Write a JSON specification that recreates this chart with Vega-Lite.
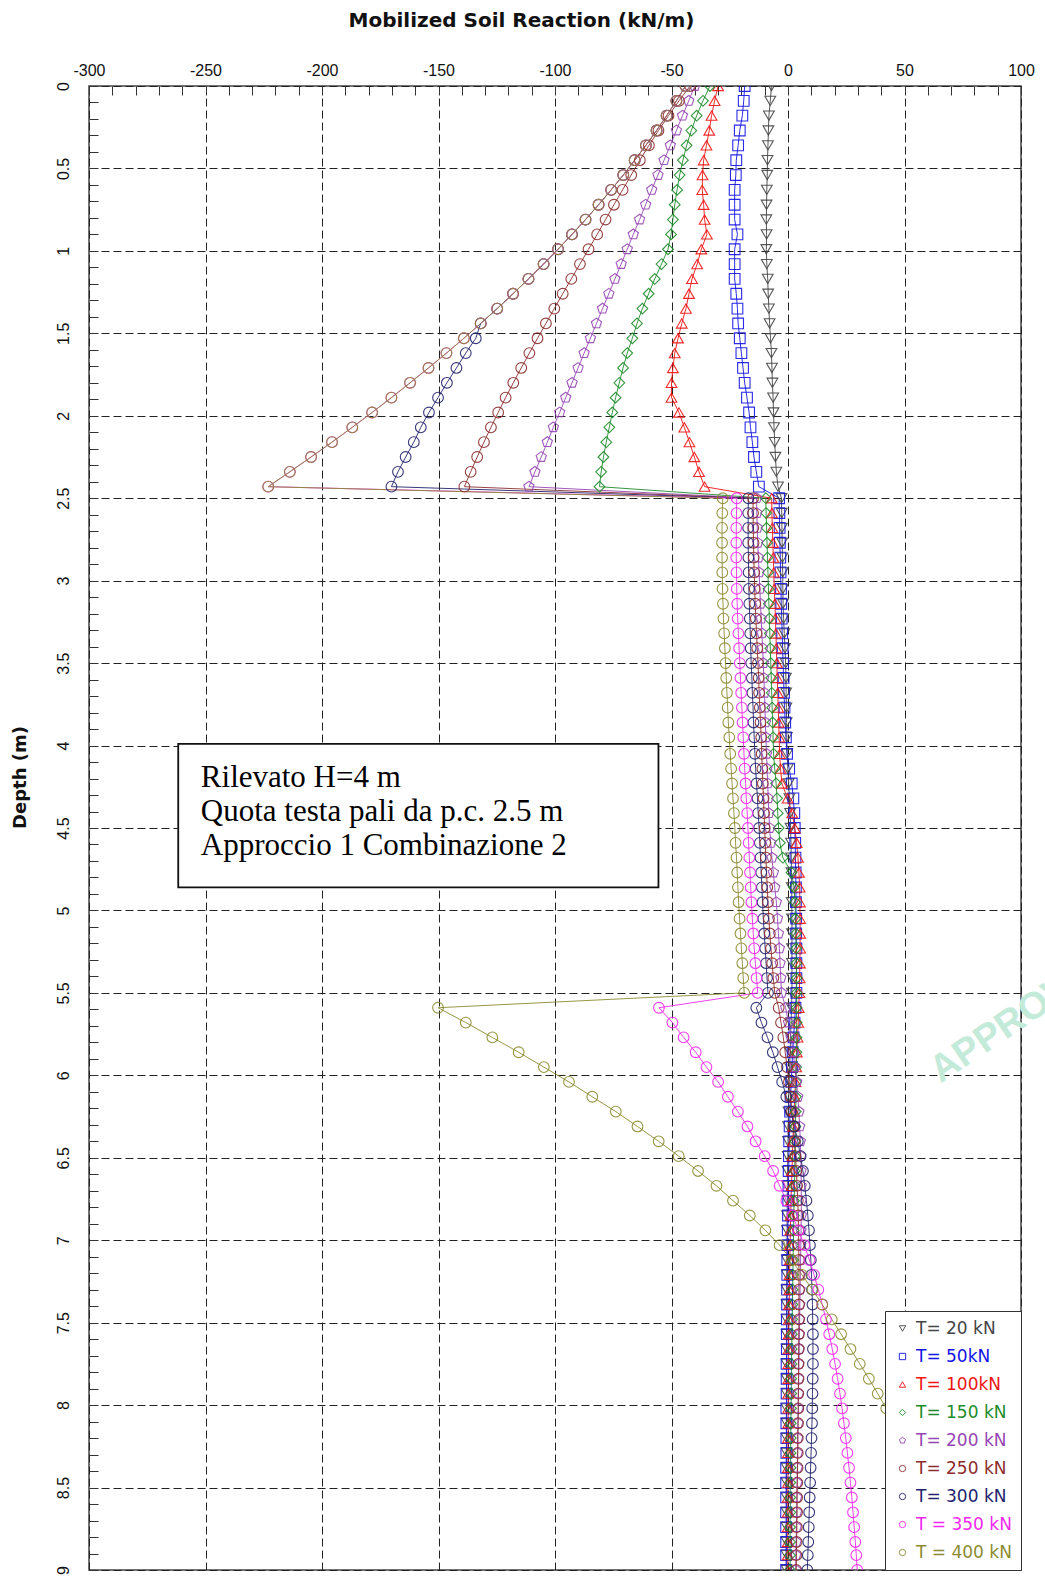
{
  "$schema": "https://vega.github.io/schema/vega-lite/v6.json",
  "width": 932,
  "height": 1484,
  "autosize": {"type": "none"},
  "padding": {"left": 89, "top": 86, "right": 24, "bottom": 11},
  "background": "white",
  "config": {"view": {"stroke": "#444", "strokeWidth": 1.5}, "font": "Liberation Sans"},
  "datasets": {
    "names": [
      {"k": 1, "T": "T= 20 kN"}, {"k": 2, "T": "T= 50kN"}, {"k": 3, "T": "T= 100kN"},
      {"k": 4, "T": "T= 150 kN"}, {"k": 5, "T": "T= 200 kN"}, {"k": 6, "T": "T= 250 kN"},
      {"k": 7, "T": "T= 300 kN"}, {"k": 8, "T": "T = 350 kN"}, {"k": 9, "T": "T = 400 kN"}
    ],
    "series": [
      {"k":1,"d":0,"v":-7.1},{"k":1,"d":0.09,"v":-7.6},{"k":1,"d":0.18,"v":-8.2},{"k":1,"d":0.27,"v":-8.4},{"k":1,"d":0.36,"v":-8.6},{"k":1,"d":0.45,"v":-8.8},{"k":1,"d":0.54,"v":-8.9},{"k":1,"d":0.63,"v":-9.1},{"k":1,"d":0.72,"v":-9.2},{"k":1,"d":0.81,"v":-9.3},
      {"k":1,"d":0.9,"v":-9.2},{"k":1,"d":0.99,"v":-9.3},{"k":1,"d":1.08,"v":-9.1},{"k":1,"d":1.17,"v":-8.7},{"k":1,"d":1.26,"v":-8.5},{"k":1,"d":1.35,"v":-8.2},{"k":1,"d":1.44,"v":-7.9},{"k":1,"d":1.53,"v":-7.5},{"k":1,"d":1.62,"v":-7.1},{"k":1,"d":1.71,"v":-6.9},
      {"k":1,"d":1.8,"v":-6.7},{"k":1,"d":1.89,"v":-6.4},{"k":1,"d":1.98,"v":-6.2},{"k":1,"d":2.07,"v":-6},{"k":1,"d":2.16,"v":-5.7},{"k":1,"d":2.25,"v":-5.4},{"k":1,"d":2.34,"v":-5},{"k":1,"d":2.43,"v":-4.3},
      {"k":1,"d":2.5,"v":-2.8},{"k":1,"d":2.59,"v":-2.7},{"k":1,"d":2.68,"v":-2.6},{"k":1,"d":2.77,"v":-2.5},{"k":1,"d":2.86,"v":-2.4},{"k":1,"d":2.95,"v":-2.3},{"k":1,"d":3.05,"v":-2.2},{"k":1,"d":3.14,"v":-2.1},{"k":1,"d":3.23,"v":-1.9},{"k":1,"d":3.32,"v":-1.6},
      {"k":1,"d":3.41,"v":-1.3},{"k":1,"d":3.5,"v":-1},{"k":1,"d":3.59,"v":-0.9},{"k":1,"d":3.68,"v":-0.8},{"k":1,"d":3.77,"v":-0.7},{"k":1,"d":3.86,"v":-0.6},{"k":1,"d":3.95,"v":-0.5},{"k":1,"d":4.05,"v":-0.4},{"k":1,"d":4.14,"v":-0.1},{"k":1,"d":4.23,"v":0.3},
      {"k":1,"d":4.32,"v":0.6},{"k":1,"d":4.41,"v":0.9},{"k":1,"d":4.5,"v":1.1},{"k":1,"d":4.59,"v":1.3},{"k":1,"d":4.68,"v":1.4},{"k":1,"d":4.77,"v":1.5},{"k":1,"d":4.86,"v":1.6},{"k":1,"d":4.95,"v":1.6},{"k":1,"d":5.05,"v":1.7},{"k":1,"d":5.14,"v":1.7},
      {"k":1,"d":5.23,"v":1.7},{"k":1,"d":5.32,"v":1.7},{"k":1,"d":5.41,"v":1.7},{"k":1,"d":5.5,"v":1.7},
      {"k":1,"d":5.59,"v":1.5},{"k":1,"d":5.68,"v":1.3},{"k":1,"d":5.77,"v":1.1},{"k":1,"d":5.86,"v":0.9},{"k":1,"d":5.95,"v":0.7},{"k":1,"d":6.04,"v":0.5},{"k":1,"d":6.13,"v":0.3},{"k":1,"d":6.22,"v":0.2},{"k":1,"d":6.31,"v":0.1},{"k":1,"d":6.4,"v":0},
      {"k":1,"d":6.49,"v":-0.1},{"k":1,"d":6.58,"v":-0.2},{"k":1,"d":6.67,"v":-0.3},{"k":1,"d":6.76,"v":-0.3},{"k":1,"d":6.85,"v":-0.4},{"k":1,"d":6.94,"v":-0.4},{"k":1,"d":7.03,"v":-0.5},{"k":1,"d":7.12,"v":-0.5},{"k":1,"d":7.21,"v":-0.5},{"k":1,"d":7.3,"v":-0.6},
      {"k":1,"d":7.39,"v":-0.6},{"k":1,"d":7.48,"v":-0.6},{"k":1,"d":7.57,"v":-0.6},{"k":1,"d":7.66,"v":-0.6},{"k":1,"d":7.75,"v":-0.6},{"k":1,"d":7.84,"v":-0.6},{"k":1,"d":7.93,"v":-0.6},{"k":1,"d":8.02,"v":-0.6},{"k":1,"d":8.11,"v":-0.6},{"k":1,"d":8.2,"v":-0.6},
      {"k":1,"d":8.29,"v":-0.6},{"k":1,"d":8.38,"v":-0.6},{"k":1,"d":8.47,"v":-0.6},{"k":1,"d":8.56,"v":-0.6},{"k":1,"d":8.65,"v":-0.6},{"k":1,"d":8.74,"v":-0.6},{"k":1,"d":8.83,"v":-0.6},{"k":1,"d":8.91,"v":-0.6},{"k":1,"d":9,"v":-0.6},

      {"k":2,"d":0,"v":-18.6},{"k":2,"d":0.09,"v":-19},{"k":2,"d":0.18,"v":-19.6},{"k":2,"d":0.27,"v":-20.7},{"k":2,"d":0.36,"v":-21.4},{"k":2,"d":0.45,"v":-22.2},{"k":2,"d":0.54,"v":-22.4},{"k":2,"d":0.63,"v":-22.9},{"k":2,"d":0.72,"v":-22.9},{"k":2,"d":0.81,"v":-22.9},
      {"k":2,"d":0.9,"v":-21.7},{"k":2,"d":0.99,"v":-22.9},{"k":2,"d":1.08,"v":-22.9},{"k":2,"d":1.17,"v":-22.9},{"k":2,"d":1.26,"v":-22.2},{"k":2,"d":1.35,"v":-21.7},{"k":2,"d":1.44,"v":-21.4},{"k":2,"d":1.53,"v":-20.7},{"k":2,"d":1.62,"v":-20},{"k":2,"d":1.71,"v":-19.3},
      {"k":2,"d":1.8,"v":-18.6},{"k":2,"d":1.89,"v":-17.6},{"k":2,"d":1.98,"v":-16.7},{"k":2,"d":2.07,"v":-16.1},{"k":2,"d":2.16,"v":-15.3},{"k":2,"d":2.25,"v":-14.6},{"k":2,"d":2.34,"v":-13.6},{"k":2,"d":2.43,"v":-12.5},
      {"k":2,"d":2.5,"v":-3.8},{"k":2,"d":2.59,"v":-3.7},{"k":2,"d":2.68,"v":-3.6},{"k":2,"d":2.77,"v":-3.5},{"k":2,"d":2.86,"v":-3.3},{"k":2,"d":2.95,"v":-3.2},{"k":2,"d":3.05,"v":-3},{"k":2,"d":3.14,"v":-2.9},{"k":2,"d":3.23,"v":-2.7},{"k":2,"d":3.32,"v":-2.5},
      {"k":2,"d":3.41,"v":-2.3},{"k":2,"d":3.5,"v":-2.1},{"k":2,"d":3.59,"v":-1.9},{"k":2,"d":3.68,"v":-1.7},{"k":2,"d":3.77,"v":-1.5},{"k":2,"d":3.86,"v":-1.2},{"k":2,"d":3.95,"v":-0.9},{"k":2,"d":4.05,"v":-0.4},{"k":2,"d":4.14,"v":0.5},{"k":2,"d":4.23,"v":1.6},
      {"k":2,"d":4.32,"v":2.3},{"k":2,"d":4.41,"v":2.7},{"k":2,"d":4.5,"v":2.9},{"k":2,"d":4.59,"v":3.1},{"k":2,"d":4.68,"v":3.2},{"k":2,"d":4.77,"v":3.3},{"k":2,"d":4.86,"v":3.4},{"k":2,"d":4.95,"v":3.4},{"k":2,"d":5.05,"v":3.5},{"k":2,"d":5.14,"v":3.5},
      {"k":2,"d":5.23,"v":3.6},{"k":2,"d":5.32,"v":3.6},{"k":2,"d":5.41,"v":3.6},{"k":2,"d":5.5,"v":3.6},
      {"k":2,"d":5.59,"v":3.2},{"k":2,"d":5.68,"v":2.8},{"k":2,"d":5.77,"v":2.4},{"k":2,"d":5.86,"v":2},{"k":2,"d":5.95,"v":1.7},{"k":2,"d":6.04,"v":1.4},{"k":2,"d":6.13,"v":1.1},{"k":2,"d":6.22,"v":0.9},{"k":2,"d":6.31,"v":0.7},{"k":2,"d":6.4,"v":0.5},
      {"k":2,"d":6.49,"v":0.4},{"k":2,"d":6.58,"v":0.3},{"k":2,"d":6.67,"v":0.2},{"k":2,"d":6.76,"v":0.1},{"k":2,"d":6.85,"v":0},{"k":2,"d":6.94,"v":-0.1},{"k":2,"d":7.03,"v":-0.2},{"k":2,"d":7.12,"v":-0.3},{"k":2,"d":7.21,"v":-0.3},{"k":2,"d":7.3,"v":-0.4},
      {"k":2,"d":7.39,"v":-0.4},{"k":2,"d":7.48,"v":-0.5},{"k":2,"d":7.57,"v":-0.5},{"k":2,"d":7.66,"v":-0.5},{"k":2,"d":7.75,"v":-0.6},{"k":2,"d":7.84,"v":-0.6},{"k":2,"d":7.93,"v":-0.6},{"k":2,"d":8.02,"v":-0.7},{"k":2,"d":8.11,"v":-0.7},{"k":2,"d":8.2,"v":-0.7},
      {"k":2,"d":8.29,"v":-0.7},{"k":2,"d":8.38,"v":-0.8},{"k":2,"d":8.47,"v":-0.8},{"k":2,"d":8.56,"v":-0.8},{"k":2,"d":8.65,"v":-0.8},{"k":2,"d":8.74,"v":-0.8},{"k":2,"d":8.83,"v":-0.8},{"k":2,"d":8.91,"v":-0.8},{"k":2,"d":9,"v":-0.8},

      {"k":3,"d":0,"v":-30},{"k":3,"d":0.09,"v":-31.5},{"k":3,"d":0.18,"v":-32.8},{"k":3,"d":0.27,"v":-33.8},{"k":3,"d":0.36,"v":-35},{"k":3,"d":0.45,"v":-36.2},{"k":3,"d":0.54,"v":-36.7},{"k":3,"d":0.63,"v":-36.8},{"k":3,"d":0.72,"v":-36.2},{"k":3,"d":0.81,"v":-35.8},
      {"k":3,"d":0.9,"v":-34.8},{"k":3,"d":0.99,"v":-37.2},{"k":3,"d":1.08,"v":-39},{"k":3,"d":1.17,"v":-41.2},{"k":3,"d":1.26,"v":-42.5},{"k":3,"d":1.35,"v":-43.8},{"k":3,"d":1.44,"v":-45.6},{"k":3,"d":1.53,"v":-47.2},{"k":3,"d":1.62,"v":-48.6},{"k":3,"d":1.71,"v":-49.4},
      {"k":3,"d":1.8,"v":-50},{"k":3,"d":1.89,"v":-50},{"k":3,"d":1.98,"v":-46.8},{"k":3,"d":2.07,"v":-44.5},{"k":3,"d":2.16,"v":-42.3},{"k":3,"d":2.25,"v":-40.2},{"k":3,"d":2.34,"v":-38.2},{"k":3,"d":2.43,"v":-35.8},
      {"k":3,"d":2.5,"v":-7},{"k":3,"d":2.59,"v":-6.9},{"k":3,"d":2.68,"v":-6.7},{"k":3,"d":2.77,"v":-6.5},{"k":3,"d":2.86,"v":-6.3},{"k":3,"d":2.95,"v":-6.1},{"k":3,"d":3.05,"v":-5.9},{"k":3,"d":3.14,"v":-5.6},{"k":3,"d":3.23,"v":-5.4},{"k":3,"d":3.32,"v":-5.2},
      {"k":3,"d":3.41,"v":-5},{"k":3,"d":3.5,"v":-4.8},{"k":3,"d":3.59,"v":-4.6},{"k":3,"d":3.68,"v":-4.4},{"k":3,"d":3.77,"v":-4.2},{"k":3,"d":3.86,"v":-4},{"k":3,"d":3.95,"v":-3.8},{"k":3,"d":4.05,"v":-3.6},{"k":3,"d":4.14,"v":-3.2},{"k":3,"d":4.23,"v":-2.6},
      {"k":3,"d":4.32,"v":-0.2},{"k":3,"d":4.41,"v":1.8},{"k":3,"d":4.5,"v":2.9},{"k":3,"d":4.59,"v":3.7},{"k":3,"d":4.68,"v":4.3},{"k":3,"d":4.77,"v":4.7},{"k":3,"d":4.86,"v":5},{"k":3,"d":4.95,"v":5.1},{"k":3,"d":5.05,"v":5.2},{"k":3,"d":5.14,"v":5.2},
      {"k":3,"d":5.23,"v":5.2},{"k":3,"d":5.32,"v":5.1},{"k":3,"d":5.41,"v":5},{"k":3,"d":5.5,"v":4.9},
      {"k":3,"d":5.59,"v":4.6},{"k":3,"d":5.68,"v":4.4},{"k":3,"d":5.77,"v":4.1},{"k":3,"d":5.86,"v":3.8},{"k":3,"d":5.95,"v":3.5},{"k":3,"d":6.04,"v":3.2},{"k":3,"d":6.13,"v":2.9},{"k":3,"d":6.22,"v":2.6},{"k":3,"d":6.31,"v":2.3},{"k":3,"d":6.4,"v":2.1},
      {"k":3,"d":6.49,"v":1.9},{"k":3,"d":6.58,"v":1.7},{"k":3,"d":6.67,"v":1.5},{"k":3,"d":6.76,"v":1.3},{"k":3,"d":6.85,"v":1.2},{"k":3,"d":6.94,"v":1},{"k":3,"d":7.03,"v":0.9},{"k":3,"d":7.12,"v":0.8},{"k":3,"d":7.21,"v":0.7},{"k":3,"d":7.3,"v":0.6},
      {"k":3,"d":7.39,"v":0.5},{"k":3,"d":7.48,"v":0.4},{"k":3,"d":7.57,"v":0.3},{"k":3,"d":7.66,"v":0.3},{"k":3,"d":7.75,"v":0.2},{"k":3,"d":7.84,"v":0.2},{"k":3,"d":7.93,"v":0.1},{"k":3,"d":8.02,"v":0.1},{"k":3,"d":8.11,"v":0.1},{"k":3,"d":8.2,"v":0},
      {"k":3,"d":8.29,"v":0},{"k":3,"d":8.38,"v":0},{"k":3,"d":8.47,"v":0},{"k":3,"d":8.56,"v":-0.1},{"k":3,"d":8.65,"v":-0.1},{"k":3,"d":8.74,"v":-0.1},{"k":3,"d":8.83,"v":-0.1},{"k":3,"d":8.91,"v":-0.1},{"k":3,"d":9,"v":-0.1},

      {"k":4,"d":0,"v":-33.5},{"k":4,"d":0.09,"v":-36.5},{"k":4,"d":0.18,"v":-39.2},{"k":4,"d":0.27,"v":-41.5},{"k":4,"d":0.36,"v":-43.5},{"k":4,"d":0.45,"v":-45.1},{"k":4,"d":0.54,"v":-46.5},{"k":4,"d":0.63,"v":-47.6},{"k":4,"d":0.72,"v":-48.6},{"k":4,"d":0.81,"v":-49.4},
      {"k":4,"d":0.9,"v":-50.2},{"k":4,"d":0.99,"v":-51.5},{"k":4,"d":1.08,"v":-54.3},{"k":4,"d":1.17,"v":-57.2},{"k":4,"d":1.26,"v":-59.8},{"k":4,"d":1.35,"v":-62.5},{"k":4,"d":1.44,"v":-64.8},{"k":4,"d":1.53,"v":-66.8},{"k":4,"d":1.62,"v":-69},{"k":4,"d":1.71,"v":-70.8},
      {"k":4,"d":1.8,"v":-72.4},{"k":4,"d":1.89,"v":-74},{"k":4,"d":1.98,"v":-75.4},{"k":4,"d":2.07,"v":-76.7},{"k":4,"d":2.16,"v":-78},{"k":4,"d":2.25,"v":-79.2},{"k":4,"d":2.34,"v":-80.2},{"k":4,"d":2.43,"v":-80.9},
      {"k":4,"d":2.5,"v":-9.5},{"k":4,"d":2.59,"v":-9.4},{"k":4,"d":2.68,"v":-9.2},{"k":4,"d":2.77,"v":-9},{"k":4,"d":2.86,"v":-8.8},{"k":4,"d":2.95,"v":-8.6},{"k":4,"d":3.05,"v":-8.4},{"k":4,"d":3.14,"v":-8.2},{"k":4,"d":3.23,"v":-8},{"k":4,"d":3.32,"v":-7.8},
      {"k":4,"d":3.41,"v":-7.6},{"k":4,"d":3.5,"v":-7.4},{"k":4,"d":3.59,"v":-7.2},{"k":4,"d":3.68,"v":-7},{"k":4,"d":3.77,"v":-6.8},{"k":4,"d":3.86,"v":-6.6},{"k":4,"d":3.95,"v":-6.4},{"k":4,"d":4.05,"v":-6.2},{"k":4,"d":4.14,"v":-5.7},{"k":4,"d":4.23,"v":-5.1},
      {"k":4,"d":4.32,"v":-4.7},{"k":4,"d":4.41,"v":-4.4},{"k":4,"d":4.5,"v":-4},{"k":4,"d":4.59,"v":-3.5},{"k":4,"d":4.68,"v":-2.2},{"k":4,"d":4.77,"v":1.5},{"k":4,"d":4.86,"v":2.6},{"k":4,"d":4.95,"v":3},{"k":4,"d":5.05,"v":3.2},{"k":4,"d":5.14,"v":3.4},
      {"k":4,"d":5.23,"v":3.5},{"k":4,"d":5.32,"v":3.6},{"k":4,"d":5.41,"v":3.7},{"k":4,"d":5.5,"v":3.7},
      {"k":4,"d":5.59,"v":3.7},{"k":4,"d":5.68,"v":3.7},{"k":4,"d":5.77,"v":3.6},{"k":4,"d":5.86,"v":3.6},{"k":4,"d":5.95,"v":3.5},{"k":4,"d":6.04,"v":3.5},{"k":4,"d":6.13,"v":3.4},{"k":4,"d":6.22,"v":3.3},{"k":4,"d":6.31,"v":3.2},{"k":4,"d":6.4,"v":3.1},
      {"k":4,"d":6.49,"v":3},{"k":4,"d":6.58,"v":2.9},{"k":4,"d":6.67,"v":2.8},{"k":4,"d":6.76,"v":2.6},{"k":4,"d":6.85,"v":2.5},{"k":4,"d":6.94,"v":2.4},{"k":4,"d":7.03,"v":2.3},{"k":4,"d":7.12,"v":2.2},{"k":4,"d":7.21,"v":2.1},{"k":4,"d":7.3,"v":2},
      {"k":4,"d":7.39,"v":1.9},{"k":4,"d":7.48,"v":1.8},{"k":4,"d":7.57,"v":1.7},{"k":4,"d":7.66,"v":1.6},{"k":4,"d":7.75,"v":1.5},{"k":4,"d":7.84,"v":1.4},{"k":4,"d":7.93,"v":1.4},{"k":4,"d":8.02,"v":1.3},{"k":4,"d":8.11,"v":1.2},{"k":4,"d":8.2,"v":1.2},
      {"k":4,"d":8.29,"v":1.1},{"k":4,"d":8.38,"v":1.1},{"k":4,"d":8.47,"v":1},{"k":4,"d":8.56,"v":1},{"k":4,"d":8.65,"v":1},{"k":4,"d":8.74,"v":0.9},{"k":4,"d":8.83,"v":0.9},{"k":4,"d":8.91,"v":0.9},{"k":4,"d":9,"v":0.9},

      {"k":5,"d":0,"v":-40},{"k":5,"d":0.09,"v":-42.6},{"k":5,"d":0.18,"v":-45.3},{"k":5,"d":0.27,"v":-47.9},{"k":5,"d":0.36,"v":-50.5},{"k":5,"d":0.45,"v":-53.2},{"k":5,"d":0.54,"v":-55.8},{"k":5,"d":0.63,"v":-58.5},{"k":5,"d":0.72,"v":-61.1},{"k":5,"d":0.81,"v":-63.7},
      {"k":5,"d":0.9,"v":-66.4},{"k":5,"d":0.99,"v":-69},{"k":5,"d":1.08,"v":-71.6},{"k":5,"d":1.17,"v":-74.3},{"k":5,"d":1.26,"v":-76.9},{"k":5,"d":1.35,"v":-79.6},{"k":5,"d":1.44,"v":-82.2},{"k":5,"d":1.53,"v":-84.8},{"k":5,"d":1.62,"v":-87.5},{"k":5,"d":1.71,"v":-90.1},
      {"k":5,"d":1.8,"v":-92.7},{"k":5,"d":1.89,"v":-95.4},{"k":5,"d":1.98,"v":-98},{"k":5,"d":2.07,"v":-100.7},{"k":5,"d":2.16,"v":-103.3},{"k":5,"d":2.25,"v":-105.9},{"k":5,"d":2.34,"v":-108.6},{"k":5,"d":2.43,"v":-111.2},
      {"k":5,"d":2.5,"v":-13.5},{"k":5,"d":2.59,"v":-13.4},{"k":5,"d":2.68,"v":-13.2},{"k":5,"d":2.77,"v":-13},{"k":5,"d":2.86,"v":-12.7},{"k":5,"d":2.95,"v":-12.4},{"k":5,"d":3.05,"v":-12.1},{"k":5,"d":3.14,"v":-11.8},{"k":5,"d":3.23,"v":-11.5},{"k":5,"d":3.32,"v":-11.2},
      {"k":5,"d":3.41,"v":-10.9},{"k":5,"d":3.5,"v":-10.6},{"k":5,"d":3.59,"v":-10.4},{"k":5,"d":3.68,"v":-10.1},{"k":5,"d":3.77,"v":-9.9},{"k":5,"d":3.86,"v":-9.7},{"k":5,"d":3.95,"v":-9.5},{"k":5,"d":4.05,"v":-9.2},{"k":5,"d":4.14,"v":-9},{"k":5,"d":4.23,"v":-8.7},
      {"k":5,"d":4.32,"v":-8.5},{"k":5,"d":4.41,"v":-8.2},{"k":5,"d":4.5,"v":-7.9},{"k":5,"d":4.59,"v":-7.4},{"k":5,"d":4.68,"v":-6.9},{"k":5,"d":4.77,"v":-6.3},{"k":5,"d":4.86,"v":-5.7},{"k":5,"d":4.95,"v":-5},{"k":5,"d":5.05,"v":-4.5},{"k":5,"d":5.14,"v":-4.1},
      {"k":5,"d":5.23,"v":-3.7},{"k":5,"d":5.32,"v":-3.4},{"k":5,"d":5.41,"v":-3.1},{"k":5,"d":5.5,"v":-2.8},
      {"k":5,"d":5.59,"v":-1},{"k":5,"d":5.68,"v":0.2},{"k":5,"d":5.77,"v":1.3},{"k":5,"d":5.86,"v":2.2},{"k":5,"d":5.95,"v":3},{"k":5,"d":6.04,"v":3.7},{"k":5,"d":6.13,"v":4.2},{"k":5,"d":6.22,"v":4.7},{"k":5,"d":6.31,"v":5},{"k":5,"d":6.4,"v":5.3},
      {"k":5,"d":6.49,"v":5.5},{"k":5,"d":6.58,"v":5.6},{"k":5,"d":6.67,"v":5.7},{"k":5,"d":6.76,"v":5.7},{"k":5,"d":6.85,"v":5.7},{"k":5,"d":6.94,"v":5.6},{"k":5,"d":7.03,"v":5.5},{"k":5,"d":7.12,"v":5.4},{"k":5,"d":7.21,"v":5.3},{"k":5,"d":7.3,"v":5.2},
      {"k":5,"d":7.39,"v":5.1},{"k":5,"d":7.48,"v":5},{"k":5,"d":7.57,"v":4.9},{"k":5,"d":7.66,"v":4.8},{"k":5,"d":7.75,"v":4.7},{"k":5,"d":7.84,"v":4.6},{"k":5,"d":7.93,"v":4.5},{"k":5,"d":8.02,"v":4.4},{"k":5,"d":8.11,"v":4.3},{"k":5,"d":8.2,"v":4.2},
      {"k":5,"d":8.29,"v":4.1},{"k":5,"d":8.38,"v":4},{"k":5,"d":8.47,"v":3.9},{"k":5,"d":8.56,"v":3.8},{"k":5,"d":8.65,"v":3.7},{"k":5,"d":8.74,"v":3.6},{"k":5,"d":8.83,"v":3.5},{"k":5,"d":8.91,"v":3.4},{"k":5,"d":9,"v":3.3},

      {"k":6,"d":0,"v":-42},{"k":6,"d":0.09,"v":-46.8},{"k":6,"d":0.18,"v":-51.3},{"k":6,"d":0.27,"v":-55.6},{"k":6,"d":0.36,"v":-59.7},{"k":6,"d":0.45,"v":-63.6},{"k":6,"d":0.54,"v":-67.3},{"k":6,"d":0.63,"v":-71},{"k":6,"d":0.72,"v":-74.7},{"k":6,"d":0.81,"v":-78.3},
      {"k":6,"d":0.9,"v":-81.9},{"k":6,"d":0.99,"v":-85.6},{"k":6,"d":1.08,"v":-89.3},{"k":6,"d":1.17,"v":-93},{"k":6,"d":1.26,"v":-96.7},{"k":6,"d":1.35,"v":-100.3},{"k":6,"d":1.44,"v":-103.9},{"k":6,"d":1.53,"v":-107.5},{"k":6,"d":1.62,"v":-111},{"k":6,"d":1.71,"v":-114.5},
      {"k":6,"d":1.8,"v":-117.9},{"k":6,"d":1.89,"v":-121.2},{"k":6,"d":1.98,"v":-124.4},{"k":6,"d":2.07,"v":-127.5},{"k":6,"d":2.16,"v":-130.5},{"k":6,"d":2.25,"v":-133.4},{"k":6,"d":2.34,"v":-136.2},{"k":6,"d":2.43,"v":-138.9},
      {"k":6,"d":2.5,"v":-15},{"k":6,"d":2.59,"v":-15},{"k":6,"d":2.68,"v":-14.9},{"k":6,"d":2.77,"v":-14.8},{"k":6,"d":2.86,"v":-14.7},{"k":6,"d":2.95,"v":-14.5},{"k":6,"d":3.05,"v":-14.3},{"k":6,"d":3.14,"v":-14.1},{"k":6,"d":3.23,"v":-13.8},{"k":6,"d":3.32,"v":-13.5},
      {"k":6,"d":3.41,"v":-13.2},{"k":6,"d":3.5,"v":-12.9},{"k":6,"d":3.59,"v":-12.6},{"k":6,"d":3.68,"v":-12.4},{"k":6,"d":3.77,"v":-12.1},{"k":6,"d":3.86,"v":-11.8},{"k":6,"d":3.95,"v":-11.5},{"k":6,"d":4.05,"v":-11.3},{"k":6,"d":4.14,"v":-11},{"k":6,"d":4.23,"v":-10.8},
      {"k":6,"d":4.32,"v":-10.5},{"k":6,"d":4.41,"v":-10.3},{"k":6,"d":4.5,"v":-10},{"k":6,"d":4.59,"v":-9.8},{"k":6,"d":4.68,"v":-9.5},{"k":6,"d":4.77,"v":-9.2},{"k":6,"d":4.86,"v":-8.9},{"k":6,"d":4.95,"v":-8.6},{"k":6,"d":5.05,"v":-8.2},{"k":6,"d":5.14,"v":-7.8},
      {"k":6,"d":5.23,"v":-7.3},{"k":6,"d":5.32,"v":-6.8},{"k":6,"d":5.41,"v":-6.3},{"k":6,"d":5.5,"v":-5.7},
      {"k":6,"d":5.59,"v":-4},{"k":6,"d":5.68,"v":-3},{"k":6,"d":5.77,"v":-2},{"k":6,"d":5.86,"v":-1.2},{"k":6,"d":5.95,"v":-0.4},{"k":6,"d":6.04,"v":0.4},{"k":6,"d":6.13,"v":1.1},{"k":6,"d":6.22,"v":1.7},{"k":6,"d":6.31,"v":2.3},{"k":6,"d":6.4,"v":2.8},
      {"k":6,"d":6.49,"v":3.2},{"k":6,"d":6.58,"v":3.6},{"k":6,"d":6.67,"v":3.9},{"k":6,"d":6.76,"v":4.2},{"k":6,"d":6.85,"v":4.4},{"k":6,"d":6.94,"v":4.5},{"k":6,"d":7.03,"v":4.6},{"k":6,"d":7.12,"v":4.7},{"k":6,"d":7.21,"v":4.7},{"k":6,"d":7.3,"v":4.7},
      {"k":6,"d":7.39,"v":4.7},{"k":6,"d":7.48,"v":4.7},{"k":6,"d":7.57,"v":4.6},{"k":6,"d":7.66,"v":4.6},{"k":6,"d":7.75,"v":4.5},{"k":6,"d":7.84,"v":4.5},{"k":6,"d":7.93,"v":4.4},{"k":6,"d":8.02,"v":4.4},{"k":6,"d":8.11,"v":4.3},{"k":6,"d":8.2,"v":4.2},
      {"k":6,"d":8.29,"v":4.2},{"k":6,"d":8.38,"v":4.1},{"k":6,"d":8.47,"v":4},{"k":6,"d":8.56,"v":3.9},{"k":6,"d":8.65,"v":3.9},{"k":6,"d":8.74,"v":3.8},{"k":6,"d":8.83,"v":3.7},{"k":6,"d":8.91,"v":3.6},{"k":6,"d":9,"v":3.5},

      {"k":7,"d":0,"v":-44},{"k":7,"d":0.09,"v":-47.9},{"k":7,"d":0.18,"v":-52.1},{"k":7,"d":0.27,"v":-56.4},{"k":7,"d":0.36,"v":-61},{"k":7,"d":0.45,"v":-65.8},{"k":7,"d":0.54,"v":-70.7},{"k":7,"d":0.63,"v":-75.9},{"k":7,"d":0.72,"v":-81.3},{"k":7,"d":0.81,"v":-86.9},
      {"k":7,"d":0.9,"v":-92.7},{"k":7,"d":0.99,"v":-98.7},{"k":7,"d":1.08,"v":-104.9},{"k":7,"d":1.17,"v":-111.4},{"k":7,"d":1.26,"v":-118},{"k":7,"d":1.35,"v":-124.8},{"k":7,"d":1.44,"v":-131.9},{"k":7,"d":1.53,"v":-134},{"k":7,"d":1.62,"v":-138.3},{"k":7,"d":1.71,"v":-142.3},
      {"k":7,"d":1.8,"v":-146.4},{"k":7,"d":1.89,"v":-150.2},{"k":7,"d":1.98,"v":-154.1},{"k":7,"d":2.07,"v":-157.6},{"k":7,"d":2.16,"v":-160.6},{"k":7,"d":2.25,"v":-164.1},{"k":7,"d":2.34,"v":-167.4},{"k":7,"d":2.43,"v":-170.2},
      {"k":7,"d":2.5,"v":-17},{"k":7,"d":2.59,"v":-17.1},{"k":7,"d":2.68,"v":-17.1},{"k":7,"d":2.77,"v":-17.1},{"k":7,"d":2.86,"v":-17},{"k":7,"d":2.95,"v":-16.9},{"k":7,"d":3.05,"v":-16.8},{"k":7,"d":3.14,"v":-16.6},{"k":7,"d":3.23,"v":-16.4},{"k":7,"d":3.32,"v":-16.2},
      {"k":7,"d":3.41,"v":-16},{"k":7,"d":3.5,"v":-15.8},{"k":7,"d":3.59,"v":-15.5},{"k":7,"d":3.68,"v":-15.3},{"k":7,"d":3.77,"v":-15},{"k":7,"d":3.86,"v":-14.8},{"k":7,"d":3.95,"v":-14.5},{"k":7,"d":4.05,"v":-14.2},{"k":7,"d":4.14,"v":-13.9},{"k":7,"d":4.23,"v":-13.5},
      {"k":7,"d":4.32,"v":-13.1},{"k":7,"d":4.41,"v":-12.8},{"k":7,"d":4.5,"v":-12.4},{"k":7,"d":4.59,"v":-12.1},{"k":7,"d":4.68,"v":-11.8},{"k":7,"d":4.77,"v":-11.5},{"k":7,"d":4.86,"v":-11.2},{"k":7,"d":4.95,"v":-10.9},{"k":7,"d":5.05,"v":-10.6},{"k":7,"d":5.14,"v":-10.2},
      {"k":7,"d":5.23,"v":-9.8},{"k":7,"d":5.32,"v":-9.4},{"k":7,"d":5.41,"v":-9},{"k":7,"d":5.5,"v":-8.6},
      {"k":7,"d":5.59,"v":-13.6},{"k":7,"d":5.68,"v":-11.4},{"k":7,"d":5.77,"v":-8.8},{"k":7,"d":5.86,"v":-6.5},{"k":7,"d":5.95,"v":-4.5},{"k":7,"d":6.04,"v":-2.5},{"k":7,"d":6.13,"v":-0.7},{"k":7,"d":6.22,"v":1.2},{"k":7,"d":6.31,"v":2.8},{"k":7,"d":6.4,"v":4.2},
      {"k":7,"d":6.49,"v":5.4},{"k":7,"d":6.58,"v":6.4},{"k":7,"d":6.67,"v":7.2},{"k":7,"d":6.76,"v":7.9},{"k":7,"d":6.85,"v":8.5},{"k":7,"d":6.94,"v":9},{"k":7,"d":7.03,"v":9.4},{"k":7,"d":7.12,"v":9.8},{"k":7,"d":7.21,"v":10.1},{"k":7,"d":7.3,"v":10.3},
      {"k":7,"d":7.39,"v":10.5},{"k":7,"d":7.48,"v":10.6},{"k":7,"d":7.57,"v":10.7},{"k":7,"d":7.66,"v":10.7},{"k":7,"d":7.75,"v":10.7},{"k":7,"d":7.84,"v":10.6},{"k":7,"d":7.93,"v":10.5},{"k":7,"d":8.02,"v":10.4},{"k":7,"d":8.11,"v":10.3},{"k":7,"d":8.2,"v":10.1},
      {"k":7,"d":8.29,"v":9.9},{"k":7,"d":8.38,"v":9.7},{"k":7,"d":8.47,"v":9.5},{"k":7,"d":8.56,"v":9.3},{"k":7,"d":8.65,"v":9.1},{"k":7,"d":8.74,"v":8.9},{"k":7,"d":8.83,"v":8.7},{"k":7,"d":8.91,"v":8.5},{"k":7,"d":9,"v":8.3},

      {"k":8,"d":0,"v":-44},{"k":8,"d":0.09,"v":-47.9},{"k":8,"d":0.18,"v":-52.1},{"k":8,"d":0.27,"v":-56.4},{"k":8,"d":0.36,"v":-61},{"k":8,"d":0.45,"v":-65.8},{"k":8,"d":0.54,"v":-70.7},{"k":8,"d":0.63,"v":-75.9},{"k":8,"d":0.72,"v":-81.3},{"k":8,"d":0.81,"v":-86.9},
      {"k":8,"d":0.9,"v":-92.7},{"k":8,"d":0.99,"v":-98.7},{"k":8,"d":1.08,"v":-104.9},{"k":8,"d":1.17,"v":-111.4},{"k":8,"d":1.26,"v":-118},{"k":8,"d":1.35,"v":-124.8},{"k":8,"d":1.44,"v":-131.9},{"k":8,"d":1.53,"v":-139.1},{"k":8,"d":1.62,"v":-146.6},{"k":8,"d":1.71,"v":-154.3},
      {"k":8,"d":1.8,"v":-162.2},{"k":8,"d":1.89,"v":-170.2},{"k":8,"d":1.98,"v":-178.5},{"k":8,"d":2.07,"v":-187},{"k":8,"d":2.16,"v":-195.7},{"k":8,"d":2.25,"v":-204.7},{"k":8,"d":2.34,"v":-213.8},{"k":8,"d":2.43,"v":-223.1},
      {"k":8,"d":2.5,"v":-22},{"k":8,"d":2.59,"v":-22.1},{"k":8,"d":2.68,"v":-22.2},{"k":8,"d":2.77,"v":-22.2},{"k":8,"d":2.86,"v":-22.2},{"k":8,"d":2.95,"v":-22.1},{"k":8,"d":3.05,"v":-22},{"k":8,"d":3.14,"v":-21.8},{"k":8,"d":3.23,"v":-21.6},{"k":8,"d":3.32,"v":-21.3},
      {"k":8,"d":3.41,"v":-21},{"k":8,"d":3.5,"v":-20.7},{"k":8,"d":3.59,"v":-20.4},{"k":8,"d":3.68,"v":-20.1},{"k":8,"d":3.77,"v":-19.8},{"k":8,"d":3.86,"v":-19.5},{"k":8,"d":3.95,"v":-19.2},{"k":8,"d":4.05,"v":-18.9},{"k":8,"d":4.14,"v":-18.6},{"k":8,"d":4.23,"v":-18.2},
      {"k":8,"d":4.32,"v":-17.9},{"k":8,"d":4.41,"v":-17.5},{"k":8,"d":4.5,"v":-17.2},{"k":8,"d":4.59,"v":-16.9},{"k":8,"d":4.68,"v":-16.6},{"k":8,"d":4.77,"v":-16.3},{"k":8,"d":4.86,"v":-16},{"k":8,"d":4.95,"v":-15.7},{"k":8,"d":5.05,"v":-15.3},{"k":8,"d":5.14,"v":-14.9},
      {"k":8,"d":5.23,"v":-14.5},{"k":8,"d":5.32,"v":-14},{"k":8,"d":5.41,"v":-13.5},{"k":8,"d":5.5,"v":-13},
      {"k":8,"d":5.59,"v":-55.4},{"k":8,"d":5.68,"v":-49.6},{"k":8,"d":5.77,"v":-44.8},{"k":8,"d":5.86,"v":-39.6},{"k":8,"d":5.95,"v":-35},{"k":8,"d":6.04,"v":-30},{"k":8,"d":6.13,"v":-25.8},{"k":8,"d":6.22,"v":-21.5},{"k":8,"d":6.31,"v":-17.4},{"k":8,"d":6.4,"v":-13.9},
      {"k":8,"d":6.49,"v":-10},{"k":8,"d":6.58,"v":-6.4},{"k":8,"d":6.67,"v":-3.6},{"k":8,"d":6.76,"v":-0.7},{"k":8,"d":6.85,"v":1.9},{"k":8,"d":6.94,"v":4.5},{"k":8,"d":7.03,"v":7},{"k":8,"d":7.12,"v":9.2},{"k":8,"d":7.21,"v":11.2},{"k":8,"d":7.3,"v":13},
      {"k":8,"d":7.39,"v":14.7},{"k":8,"d":7.48,"v":16.3},{"k":8,"d":7.57,"v":17.7},{"k":8,"d":7.66,"v":19},{"k":8,"d":7.75,"v":20.2},{"k":8,"d":7.84,"v":21.3},{"k":8,"d":7.93,"v":22.3},{"k":8,"d":8.02,"v":23.2},{"k":8,"d":8.11,"v":24},{"k":8,"d":8.2,"v":24.8},
      {"k":8,"d":8.29,"v":25.5},{"k":8,"d":8.38,"v":26.2},{"k":8,"d":8.47,"v":26.8},{"k":8,"d":8.56,"v":27.4},{"k":8,"d":8.65,"v":27.9},{"k":8,"d":8.74,"v":28.4},{"k":8,"d":8.83,"v":28.9},{"k":8,"d":8.91,"v":29.3},{"k":8,"d":9,"v":29.7},

      {"k":9,"d":0,"v":-44},{"k":9,"d":0.09,"v":-47.9},{"k":9,"d":0.18,"v":-52.1},{"k":9,"d":0.27,"v":-56.4},{"k":9,"d":0.36,"v":-61},{"k":9,"d":0.45,"v":-65.8},{"k":9,"d":0.54,"v":-70.7},{"k":9,"d":0.63,"v":-75.9},{"k":9,"d":0.72,"v":-81.3},{"k":9,"d":0.81,"v":-86.9},
      {"k":9,"d":0.9,"v":-92.7},{"k":9,"d":0.99,"v":-98.7},{"k":9,"d":1.08,"v":-104.9},{"k":9,"d":1.17,"v":-111.4},{"k":9,"d":1.26,"v":-118},{"k":9,"d":1.35,"v":-124.8},{"k":9,"d":1.44,"v":-131.9},{"k":9,"d":1.53,"v":-139.1},{"k":9,"d":1.62,"v":-146.6},{"k":9,"d":1.71,"v":-154.3},
      {"k":9,"d":1.8,"v":-162.2},{"k":9,"d":1.89,"v":-170.2},{"k":9,"d":1.98,"v":-178.5},{"k":9,"d":2.07,"v":-187},{"k":9,"d":2.16,"v":-195.7},{"k":9,"d":2.25,"v":-204.7},{"k":9,"d":2.34,"v":-213.8},{"k":9,"d":2.43,"v":-223.1},
      {"k":9,"d":2.5,"v":-28},{"k":9,"d":2.59,"v":-28.2},{"k":9,"d":2.68,"v":-28.3},{"k":9,"d":2.77,"v":-28.3},{"k":9,"d":2.86,"v":-28.3},{"k":9,"d":2.95,"v":-28.2},{"k":9,"d":3.05,"v":-28.1},{"k":9,"d":3.14,"v":-27.9},{"k":9,"d":3.23,"v":-27.7},{"k":9,"d":3.32,"v":-27.4},
      {"k":9,"d":3.41,"v":-27.1},{"k":9,"d":3.5,"v":-26.8},{"k":9,"d":3.59,"v":-26.5},{"k":9,"d":3.68,"v":-26.2},{"k":9,"d":3.77,"v":-25.9},{"k":9,"d":3.86,"v":-25.6},{"k":9,"d":3.95,"v":-25.2},{"k":9,"d":4.05,"v":-24.8},{"k":9,"d":4.14,"v":-24.4},{"k":9,"d":4.23,"v":-24},
      {"k":9,"d":4.32,"v":-23.6},{"k":9,"d":4.41,"v":-23.2},{"k":9,"d":4.5,"v":-22.8},{"k":9,"d":4.59,"v":-22.5},{"k":9,"d":4.68,"v":-22.1},{"k":9,"d":4.77,"v":-21.8},{"k":9,"d":4.86,"v":-21.5},{"k":9,"d":4.95,"v":-21.2},{"k":9,"d":5.05,"v":-20.8},{"k":9,"d":5.14,"v":-20.4},
      {"k":9,"d":5.23,"v":-20},{"k":9,"d":5.32,"v":-19.6},{"k":9,"d":5.41,"v":-19.2},{"k":9,"d":5.5,"v":-18.8},
      {"k":9,"d":5.59,"v":-150.2},{"k":9,"d":5.68,"v":-138.3},{"k":9,"d":5.77,"v":-126.9},{"k":9,"d":5.86,"v":-115.6},{"k":9,"d":5.95,"v":-104.8},{"k":9,"d":6.04,"v":-94},{"k":9,"d":6.13,"v":-84},{"k":9,"d":6.22,"v":-73.9},{"k":9,"d":6.31,"v":-64.6},{"k":9,"d":6.4,"v":-55.5},
      {"k":9,"d":6.49,"v":-46.9},{"k":9,"d":6.58,"v":-38.6},{"k":9,"d":6.67,"v":-30.7},{"k":9,"d":6.76,"v":-23.6},{"k":9,"d":6.85,"v":-16.4},{"k":9,"d":6.94,"v":-9.7},{"k":9,"d":7.03,"v":-3.6},{"k":9,"d":7.12,"v":1.5},{"k":9,"d":7.21,"v":6},{"k":9,"d":7.3,"v":10.5},
      {"k":9,"d":7.39,"v":14.7},{"k":9,"d":7.48,"v":18.8},{"k":9,"d":7.57,"v":22.8},{"k":9,"d":7.66,"v":26.8},{"k":9,"d":7.75,"v":30.8},{"k":9,"d":7.84,"v":34.7},{"k":9,"d":7.93,"v":38.5},{"k":9,"d":8.02,"v":42.2},{"k":9,"d":8.11,"v":45.8},{"k":9,"d":8.2,"v":49.4},
      {"k":9,"d":8.29,"v":53},{"k":9,"d":8.38,"v":56.5},{"k":9,"d":8.47,"v":60},{"k":9,"d":8.56,"v":63.5},{"k":9,"d":8.65,"v":67},{"k":9,"d":8.74,"v":70.4},{"k":9,"d":8.83,"v":73.8},{"k":9,"d":8.91,"v":76.8},{"k":9,"d":9,"v":80}
    ]
  },
  "encoding": {
    "x": {
      "field": "v", "type": "quantitative",
      "scale": {"domain": [-300, 100], "nice": false, "zero": false},
      "axis": {
        "orient": "top",
        "tickCount": 40,
        "labelExpr": "datum.value % 50 === 0 ? '' + datum.value : ''",
        "labelFont": "Liberation Sans", "labelFontSize": 16, "labelColor": "#111",
        "labelFlush": false, "labelOverlap": false, "labelPadding": 17,
        "tickSize": -9, "tickColor": "#333", "tickWidth": 1,
        "domain": false,
        "grid": true, "gridColor": "#222", "gridDash": [8, 4], "gridWidth": 1,
        "gridOpacity": {"condition": {"test": "datum.value % 50 === 0", "value": 1}, "value": 0},
        "title": "Mobilized Soil Reaction (kN/m)",
        "titleFont": "DejaVu Sans", "titleFontSize": 20, "titleFontWeight": "bold", "titleColor": "#111",
        "titleX": 432, "titleY": -66, "titleAlign": "center", "titleBaseline": "middle"
      }
    },
    "y": {
      "field": "d", "type": "quantitative",
      "scale": {"domain": [0, 9], "reverse": true, "nice": false, "zero": false},
      "axis": {
        "orient": "left",
        "tickCount": 90,
        "labelExpr": "abs(datum.value * 2 - round(datum.value * 2)) < 0.001 ? format(datum.value, '.1~f') : ''",
        "labelFont": "Liberation Sans", "labelFontSize": 16, "labelColor": "#111",
        "labelAngle": 270, "labelAlign": "center", "labelBaseline": "bottom",
        "labelFlush": false, "labelOverlap": false, "labelPadding": 27,
        "tickSize": -9, "tickColor": "#333", "tickWidth": 1,
        "domain": false,
        "grid": true, "gridColor": "#222", "gridDash": [8, 4], "gridWidth": 1,
        "gridOpacity": {"condition": {"test": "abs(datum.value * 2 - round(datum.value * 2)) < 0.001", "value": 1}, "value": 0},
        "title": "Depth (m)",
        "titleFont": "DejaVu Sans", "titleFontSize": 18, "titleFontWeight": "bold", "titleColor": "#111",
        "titleAngle": 270, "titleX": -69, "titleY": 691, "titleAlign": "center", "titleBaseline": "middle"
      }
    }
  },
  "layer": [
    {
      "data": {"name": "series"},
      "transform": [{"lookup": "k", "from": {"data": {"name": "names"}, "key": "k", "fields": ["T"]}}],
      "mark": {"type": "line", "strokeWidth": 1, "clip": true, "opacity": 0.9},
      "encoding": {
        "color": {
          "field": "T", "type": "nominal",
          "scale": {
            "domain": ["T= 20 kN", "T= 50kN", "T= 100kN", "T= 150 kN", "T= 200 kN", "T= 250 kN", "T= 300 kN", "T = 350 kN", "T = 400 kN"],
            "range": ["#454545", "#1414e6", "#f01414", "#1e8c2a", "#9646b4", "#8c2d2d", "#23236e", "#f028f0", "#8c8c32"]
          },
          "legend": {
            "orient": "bottom-right", "offset": 0, "title": null,
            "padding": 9, "rowPadding": 10,
            "labelFont": "DejaVu Sans", "labelFontSize": 17, "labelOffset": 5,
            "labelColor": {"expr": "scale('color', datum.value)"},
            "symbolSize": 40, "symbolStrokeWidth": 1,
            "symbolStrokeColor": "#444", "symbolFillColor": "transparent",
            "strokeColor": "#333", "fillColor": "white", "cornerRadius": 0
          }
        },
        "order": {"field": "d", "type": "quantitative"}
      }
    },
    {
      "data": {"name": "series"},
      "transform": [{"lookup": "k", "from": {"data": {"name": "names"}, "key": "k", "fields": ["T"]}}],
      "mark": {"type": "point", "filled": false, "size": 115, "strokeWidth": 1.1, "clip": true, "opacity": 0.9},
      "encoding": {
        "color": {
          "field": "T", "type": "nominal",
          "legend": {
            "orient": "bottom-right", "offset": 0, "title": null,
            "padding": 9, "rowPadding": 10,
            "labelFont": "DejaVu Sans", "labelFontSize": 17, "labelOffset": 5,
            "labelColor": {"expr": "scale('color', datum.value)"},
            "symbolSize": 40, "symbolStrokeWidth": 1,
            "symbolStrokeColor": "#444", "symbolFillColor": "transparent",
            "strokeColor": "#333", "fillColor": "white", "cornerRadius": 0
          }
        },
        "shape": {
          "field": "T", "type": "nominal",
          "scale": {
            "domain": ["T= 20 kN", "T= 50kN", "T= 100kN", "T= 150 kN", "T= 200 kN", "T= 250 kN", "T= 300 kN", "T = 350 kN", "T = 400 kN"],
            "range": ["triangle-down", "square", "triangle-up", "diamond", "M0,-1L0.951,-0.309L0.588,0.809L-0.588,0.809L-0.951,-0.309Z", "circle", "circle", "circle", "circle"]
          },
          "legend": {
            "orient": "bottom-right", "offset": 0, "title": null,
            "padding": 9, "rowPadding": 10,
            "labelFont": "DejaVu Sans", "labelFontSize": 17, "labelOffset": 5,
            "labelColor": {"expr": "scale('color', datum.value)"},
            "symbolSize": 40, "symbolStrokeWidth": 1,
            "symbolStrokeColor": "#444", "symbolFillColor": "transparent",
            "strokeColor": "#333", "fillColor": "white", "cornerRadius": 0
          }
        }
      }
    },
    {
      "data": {"values": [{"v": -261.7, "v2": -55.6, "d": 3.99, "d2": 4.86}]},
      "mark": {"type": "rect", "fill": "white", "stroke": "#111", "strokeWidth": 1.8},
      "encoding": {
        "x2": {"field": "v2"},
        "y2": {"field": "d2"}
      }
    },
    {
      "data": {"values": [
        {"v": -252, "d": 4.195, "t": "Rilevato H=4 m"},
        {"v": -252, "d": 4.403, "t": "Quota testa pali da p.c. 2.5 m"},
        {"v": -252, "d": 4.611, "t": "Approccio 1 Combinazione 2"}
      ]},
      "mark": {"type": "text", "align": "left", "baseline": "middle", "font": "Liberation Serif", "fontSize": 31, "color": "#000"},
      "encoding": {
        "text": {"field": "t"}
      }
    },
    {
      "data": {"values": [{"v": 65.5, "d": 6.05, "t": "APPROVED"}]},
      "mark": {"type": "text", "align": "left", "baseline": "alphabetic", "angle": -34, "font": "Liberation Sans", "fontSize": 38, "fontWeight": "bold", "color": "#c4eada"},
      "encoding": {
        "text": {"field": "t"}
      }
    }
  ]
}
